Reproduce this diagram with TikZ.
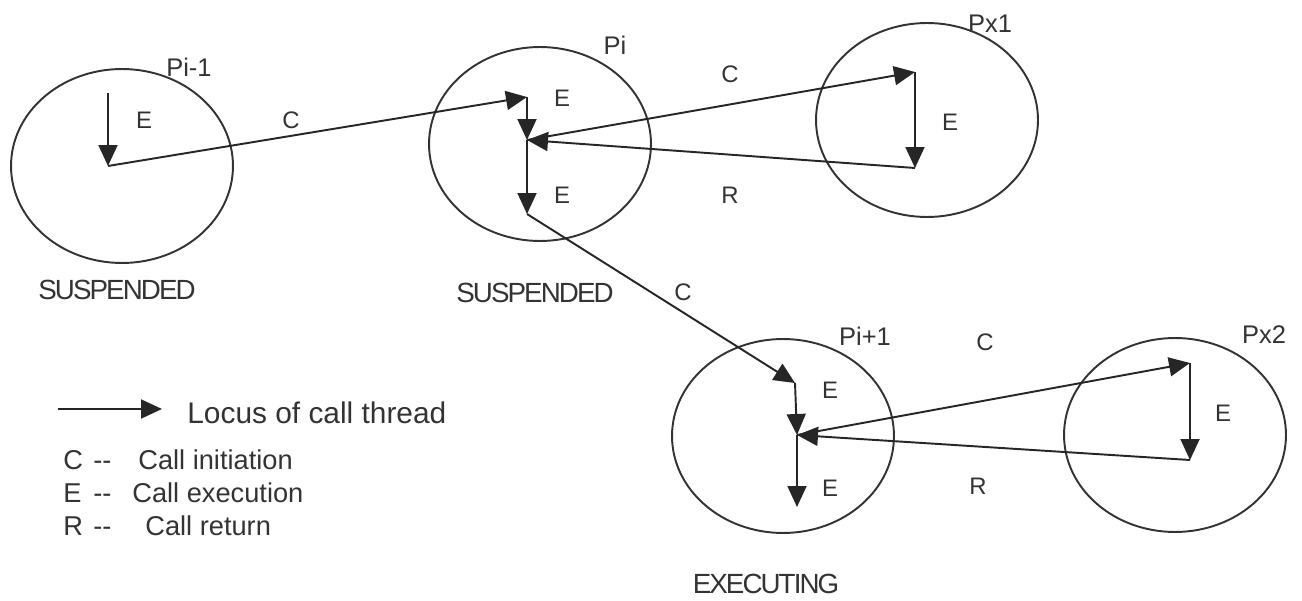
\documentclass[tikz,border=0pt]{standalone}
\usepackage{fontspec}
\setmainfont{Liberation Sans}
\usetikzlibrary{positioning, shapes.geometric, arrows.meta}

\begin{document}
\begin{tikzpicture}[
        x=0.02cm, y=-0.02cm,
        every node/.style={font=\fontsize{13.6}{16}\selectfont, inner sep=0pt, text=black!80},
        proc/.style={ellipse, draw=black!80, line width=1.1pt, minimum width=4.44cm, minimum height=3.88cm},
        flow/.style={-{Triangle[length=0.42cm, width=0.38cm]}, line width=1.1pt, draw=black!85},
        pname/.style={font=\fontsize{14.5}{17}\selectfont},
        status/.style={font=\fontsize{15.8}{18}\selectfont\addfontfeature{LetterSpace=-7}},
        legend/.style={font=\fontsize{15.5}{18}\selectfont, anchor=base west},
    ]
        \useasboundingbox (0,0) rectangle (1302,601);

        % Processes
        \node[proc] (pim1) at (122,166) {};
        \node[proc] (pi) at (540,144) {};
        \node[proc] (px1) at (927,120) {};
        \node[proc] (pip1) at (783,436) {};
        \node[proc] (px2) at (1175,435) {};

        \node[pname] (pim1name) at (189,67) {Pi-1};
        \node[pname] (piname) at (615,45) {Pi};
        \node[pname] (px1name) at (990,24) {Px1};
        \node[pname] (pip1name) at (865,336) {Pi+1};
        \node[pname] (px2name) at (1264,335) {Px2};

        \node[status] (susp1) at (117,290) {SUSPENDED};
        \node[status] (susp2) at (535,293) {SUSPENDED};
        \node[status] (exec) at (766,584) {EXECUTING};

        % Thread points
        \coordinate (a1) at (108,93);
        \coordinate (a2) at (108,166);
        \coordinate (b1) at (527,97);
        \coordinate (b2) at (527,140);
        \coordinate (b3) at (527,214);
        \coordinate (c1) at (915,72);
        \coordinate (c2) at (915,168);
        \coordinate (d1) at (795,383);
        \coordinate (d2) at (797,435);
        \coordinate (d3) at (797,507);
        \coordinate (e1) at (1190,363);
        \coordinate (e2) at (1190,460);

        % Arrows
        \draw[flow] (a1) -- (a2);
        \draw[flow] (a2) -- (b1);
        \draw[flow] (b1) -- (b2);
        \draw[flow] (b2) -- (c1);
        \draw[flow] (c1) -- (c2);
        \draw[flow] (c2) -- (b2);
        \draw[flow] (b2) -- (b3);
        \draw[flow] (b3) -- (d1);
        \draw[flow] (d1) -- (d2);
        \draw[flow] (d2) -- (e1);
        \draw[flow] (e1) -- (e2);
        \draw[flow] (e2) -- (d2);
        \draw[flow] (d2) -- (d3);

        % Labels
        \node (ea) at (144,120) {E};
        \node (eb1) at (562,98) {E};
        \node (eb2) at (562,195) {E};
        \node (ec) at (950,122) {E};
        \node (ed1) at (830,390) {E};
        \node (ed2) at (830,488) {E};
        \node (ee) at (1223,413) {E};
        \node (cab) at (291,120) {C};
        \node (cbc) at (730,74) {C};
        \node (cbd) at (683,292) {C};
        \node (cde) at (985,342) {C};
        \node (rcb) at (730,195) {R};
        \node (red) at (978,486) {R};

        % Legend
        \coordinate (keyfrom) at (58,409);
        \coordinate (keyto) at (162,409);
        \node[legend, font=\fontsize{17}{20}\selectfont] (keytext) at (187,423) {Locus of call thread};
        \draw[flow] (keyfrom) -- (keyto);
        \node[legend] (kc) at (63,469) {C};
        \node[legend] (kcdash) at (93,469) {-{}-};
        \node[legend] (kctext) at (138,469) {Call initiation};
        \node[legend] (ke) at (63,502) {E};
        \node[legend] (kedash) at (93,502) {-{}-};
        \node[legend] (ketext) at (132,502) {Call execution};
        \node[legend] (kr) at (63,535) {R};
        \node[legend] (krdash) at (93,535) {-{}-};
        \node[legend] (krtext) at (145,535) {Call return};

    \end{tikzpicture}
\end{document}
